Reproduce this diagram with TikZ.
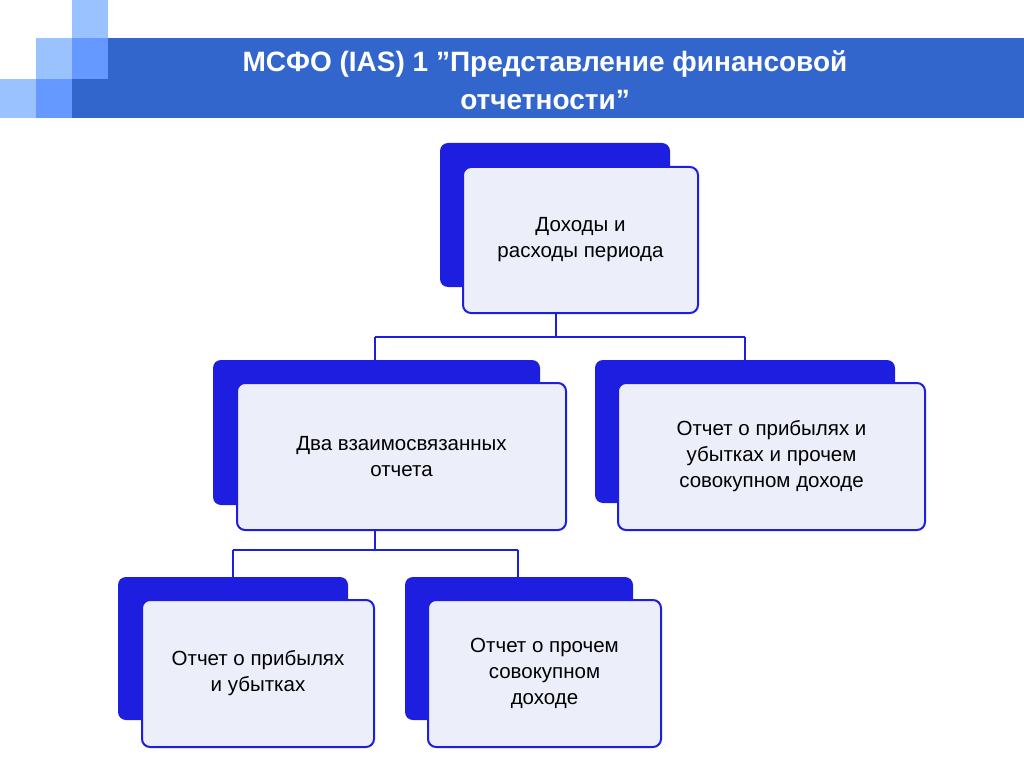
\documentclass[tikz,border=0pt]{standalone}
\usepackage{fontspec}
\setmainfont{Liberation Sans}
\usetikzlibrary{positioning}
\definecolor{hdblue}{RGB}{51,102,204}
\definecolor{sqlight}{RGB}{153,194,255}
\definecolor{sqmid}{RGB}{102,153,255}
\definecolor{boxblue}{RGB}{30,30,225}
\definecolor{boxfill}{RGB}{236,238,250}
\tikzstyle{backbox} = [rectangle, rounded corners=8pt, fill=boxblue, draw=none]
\tikzstyle{frontbox} = [rectangle, rounded corners=8pt, fill=boxfill, draw=boxblue, line width=2pt, align=center, font=\fontsize{20.5}{26}\selectfont]
\tikzstyle{link} = [line width=1.5pt, color=boxblue]
\begin{document}
\begin{tikzpicture}[x=1pt, y=-1pt]
\useasboundingbox (0,0) rectangle (1024,767);
% Header
\fill[sqlight] (72,0) rectangle (108,38);
\fill[sqlight] (36,38) rectangle (72,79);
\fill[sqmid] (72,38) rectangle (108,79);
\fill[sqlight] (0,79) rectangle (36,118);
\fill[sqmid] (36,79) rectangle (72,118);
\fill[hdblue] (108,38) rectangle (1024,118);
\fill[hdblue] (72,79) rectangle (108,118);
\node (title) [text=white, align=center, font=\bfseries\fontsize{28}{38}\selectfont] at (545,80)
  {МСФО (IAS) 1 \symbol{34}Представление финансовой\\отчетности\symbol{34}};

% Boxes
\node (b1) [backbox, minimum width=230pt, minimum height=144pt] at (555,215) {};
\node (f1) [frontbox, minimum width=235pt, minimum height=146pt] at (580.5,240) {Доходы и\\расходы периода};
\node (b2) [backbox, minimum width=327pt, minimum height=145pt] at (376.5,432.5) {};
\node (f2) [frontbox, minimum width=329pt, minimum height=147pt] at (401.5,456.5) {Два взаимосвязанных\\отчета};
\node (b3) [backbox, minimum width=300pt, minimum height=143pt] at (745,431.5) {};
\node (f3) [frontbox, minimum width=307pt, minimum height=147pt] at (771.5,456.5) {Отчет о прибылях и\\убытках и прочем\\совокупном доходе};
\node (b4) [backbox, minimum width=230pt, minimum height=143pt] at (233,648.5) {};
\node (f4) [frontbox, minimum width=232pt, minimum height=147pt] at (258,673.5) {Отчет о прибылях\\и убытках};
\node (b5) [backbox, minimum width=228pt, minimum height=143pt] at (519,648.5) {};
\node (f5) [frontbox, minimum width=233pt, minimum height=147pt] at (544.5,673.5) {Отчет о прочем\\совокупном\\доходе};

% Connections
\coordinate (j1) at (556,337);
\coordinate (j1l) at (375,337);
\coordinate (j1r) at (745,337);
\coordinate (j2) at (375,550);
\coordinate (j2l) at (233,550);
\coordinate (j2r) at (518,550);
\draw[link] (j1 |- f1.south) -- (j1);
\draw[link] (j1l) -- (j1r);
\draw[link] (j1l) -- (j1l |- b2.north);
\draw[link] (j1r) -- (j1r |- b3.north);
\draw[link] (j2 |- f2.south) -- (j2);
\draw[link] (j2l) -- (j2r);
\draw[link] (j2l) -- (j2l |- b4.north);
\draw[link] (j2r) -- (j2r |- b5.north);
\end{tikzpicture}
\end{document}
